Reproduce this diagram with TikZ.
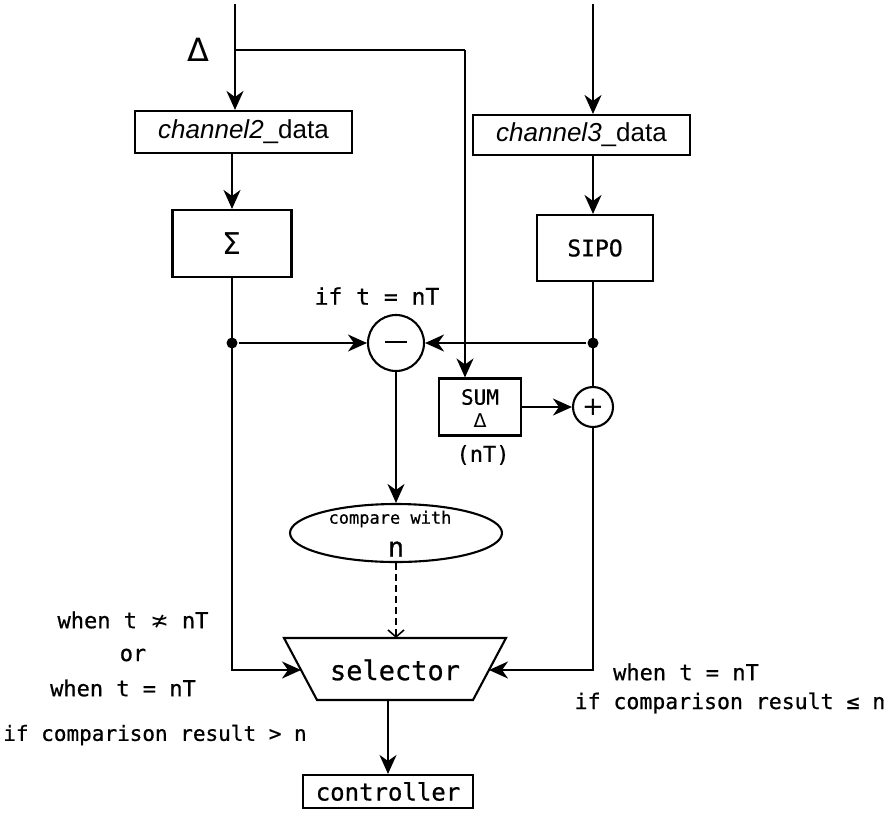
\documentclass[tikz,border=0pt]{standalone}
\usepackage{fontspec}
\setmainfont{Liberation Sans}
\newfontfamily\gothic[UprightFeatures={FakeBold=0.7}]{DejaVu Sans Mono}
\newfontfamily\dejavu{DejaVu Sans}
\usetikzlibrary{arrows.meta,shapes.geometric}

\begin{document}
\begin{tikzpicture}[x=1pt,y=-1pt,
  line width=2.1pt,
  >={Stealth[length=19pt,width=17pt,inset=6pt]},
  box/.style={draw, line width=2.1pt, inner sep=0pt},
  mono/.style={inner sep=0pt, font=\gothic\fontsize{#1}{#1}\selectfont},
  mono/.default=22,
  dot/.style={circle, fill, inner sep=0pt, minimum size=11pt},
  opbox/.style={circle, draw, fill=white, inner sep=0pt, minimum size=#1},
]
\useasboundingbox[fill=white] (0,0) rectangle (890,812);

% input channels and data registers
\coordinate (top2) at (235,4);
\coordinate (top3) at (593,4);
\coordinate (fb) at (235,50);
\coordinate (fbc) at (465,50);
\node[inner sep=0pt, font=\dejavu\fontsize{32}{32}\selectfont] (dlt) at (198,50) {Δ};

\node[box, minimum width=217pt, minimum height=42pt] (ch2) at (243.5,132)
  {\fontsize{26}{30}\selectfont\textit{channel2}\_data};
\node[box, minimum width=217pt, minimum height=40pt] (ch3) at (581.5,135)
  {\fontsize{26}{30}\selectfont\textit{channel3}\_data};

\node[box, minimum width=119pt, minimum height=67pt] (sig) at (232,243.5)
  {\dejavu\fontsize{30}{30}\selectfont Σ};
\node[box, minimum width=116pt, minimum height=66pt] (sipo) at (595,248)
  {\gothic\fontsize{23}{23}\selectfont SIPO};

% difference / sum operators
\node[opbox=56pt] (mn) at (396,343) {\rule[0.3ex]{22pt}{2.4pt}};
\node[opbox=40pt] (pl) at (593,407) {\dejavu\fontsize{26}{26}\selectfont +};
\node[mono=23] (cond) at (377,296) {if t = nT};

\node[box, minimum width=82pt, minimum height=57pt] (sum) at (480,407) {};
\node[mono=21] (sumtxt) at (480,397) {SUM};
\node[inner sep=0pt, font=\dejavu\fontsize{19}{19}\selectfont] (sumd) at (480,421) {Δ};
\node[mono=22] (nt) at (483,455) {(nT)};

\node[dot] (d1) at (232,343) {};
\node[dot] (d2) at (593,343) {};

% comparison and selection
\node[ellipse, draw, minimum width=212pt, minimum height=58pt, inner sep=0pt] (ell) at (396,533) {};
\node[mono=17] (cmpw) at (390,519) {compare with};
\node[mono=27] (cmpn) at (396,549) {n};

% selector trapezoid (wide side on top)
\draw (284,638) -- (506,638) -- (473,700) -- (317,700) -- cycle;
\coordinate (selT) at (396,638);
\coordinate (selB) at (388,700);
\coordinate (selL) at (301,670);
\coordinate (selR) at (489,670);
\node[mono=27] (sel) at (395,670) {selector};

\node[box, minimum width=170pt, minimum height=33pt] (ctrl) at (388,791.5)
  {\gothic\fontsize{24}{24}\selectfont controller};

% condition labels
\node[mono=22] (c1) at (133,620) {when t {\dejavu ≭} nT};
\node[mono=22] (c2) at (133,655) {or};
\node[mono=22] (c3) at (123,688) {when t = nT};
\node[mono=21] (c4) at (155,735) {if comparison result > n};
\node[mono=22] (c5) at (686,672) {when t = nT};
\node[mono=21.5] (c6) at (730,703) {if comparison result ≤ n};

% connectors
\draw[->] (top2) -- (top2 |- ch2.north);
\draw (fb) -- (fbc);
\draw[->] (fbc) -- (fbc |- sum.north);
\draw[->] (top3) -- (top3 |- ch3.north);
\draw[->] (sig.north |- ch2.south) -- (sig.north);
\draw[->] (ch3.south -| top3) -- (sipo.north -| top3);

\draw[->] (sig.south -| d1) |- (selL);
\draw[->] (d1) -- (mn.west);
\draw (sipo.south -| d2) -- (pl.north);
\draw[->] (d2) -- (mn.east);
\draw[->] (pl.south) |- (selR);
\draw[->] (sum.east) -- (pl.west);

\draw[->] (mn.south) -- (ell.north);
\draw[dashed, dash pattern=on 7pt off 4pt, line width=1.6pt,
      -{Straight Barb[length=7pt,width=16pt]}] (ell.south) -- (selT);
\draw[->] (selB) -- (selB |- ctrl.north);

\end{tikzpicture}
\end{document}
